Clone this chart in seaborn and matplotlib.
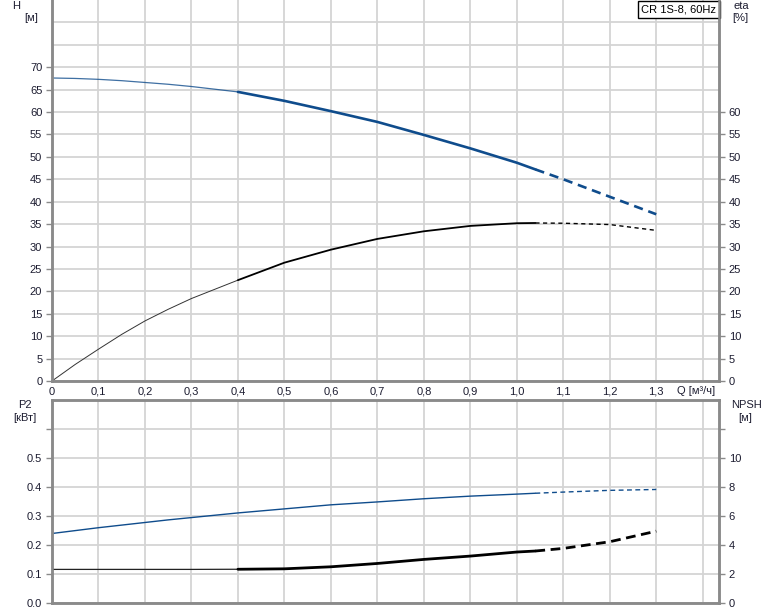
import numpy as np
import pandas as pd
import matplotlib
matplotlib.use("Agg")
import matplotlib.pyplot as plt
import matplotlib.transforms as mtransforms
import seaborn as sns

# values
q = [0.0, 0.05, 0.1, 0.15, 0.2, 0.25, 0.3, 0.4, 0.5, 0.6, 0.7, 0.8, 0.9, 1.0, 1.04, 1.1, 1.2, 1.3]
head = [67.6, 67.5, 67.3, 67.0, 66.6, 66.2, 65.7, 64.5, 62.5, 60.2, 57.8, 54.9, 51.9, 48.7, 47.2, 45.0, 41.1, 37.2]
eta = [0.0, 3.7, 7.1, 10.4, 13.4, 16.0, 18.4, 22.5, 26.4, 29.3, 31.7, 33.4, 34.6, 35.2, 35.25, 35.2, 34.9, 33.6]
p2 = [0.239, 0.249, 0.259, 0.268, 0.277, 0.286, 0.294, 0.310, 0.324, 0.338, 0.348, 0.359, 0.368, 0.375, 0.378, 0.382, 0.388, 0.391]
npsh = [2.30, 2.30, 2.30, 2.30, 2.30, 2.30, 2.30, 2.31, 2.34, 2.48, 2.71, 2.99, 3.22, 3.50, 3.57, 3.75, 4.21, 4.94]

q_labels = ["0", "0,1", "0,2", "0,3", "0,4", "0,5", "0,6", "0,7", "0,8", "0,9", "1,0", "1,1", "1,2", "1,3", ""]
title_box = "CR 1S-8, 60Hz"

df = pd.DataFrame({"Q": q, "H": head, "eta": eta, "P2": p2, "NPSH": npsh})
thin = df[df["Q"] <= 0.4]
mid = df[(df["Q"] >= 0.4) & (df["Q"] <= 1.04)]
solid = df[df["Q"] <= 1.04]
tail = df[df["Q"] >= 1.04]

sns.set_style("white")
plt.rcParams["font.family"] = ["Liberation Sans", "DejaVu Sans"]

blue = "#0f4c8c"
grid_c = "#d4d4d4"
spine_c = "#8a8a8a"
txt_c = "#1c1c30"

fig = plt.figure(figsize=(7.74, 6.11), dpi=100)
ax1 = fig.add_axes([52 / 774, (611 - 381) / 611, 667 / 774, 381 / 611])
ax3 = fig.add_axes([52 / 774, (611 - 602.7) / 611, 667 / 774, 202.7 / 611])


def style_axes(ax):
    ax.set_xlim(0, 1.435)
    ax.set_xticks(np.arange(0, 1.45, 0.1))
    ax.grid(True, which="both", color=grid_c, lw=1.3)
    ax.set_axisbelow(True)
    for s in ax.spines.values():
        s.set_color(spine_c)
        s.set_linewidth(1.8)
    ax.tick_params(axis="x", length=0, labelsize=8, labelcolor=txt_c, pad=4)
    ax.tick_params(axis="y", which="major", direction="out", length=4, width=1,
                   color=spine_c, labelsize=8, labelcolor=txt_c, pad=3)
    ax.tick_params(axis="y", which="minor", length=0)
    ax.set_xlabel("")
    ax.set_ylabel("")


# --- top panel: H and eta
sns.lineplot(data=thin, x="Q", y="H", ax=ax1, color=blue, lw=0.9, alpha=0.8)
sns.lineplot(data=mid, x="Q", y="H", ax=ax1, color=blue, lw=1.9)
sns.lineplot(data=tail, x="Q", y="H", ax=ax1, color=blue, lw=1.9, linestyle=(0, (3.5, 2.2)))
sns.lineplot(data=thin, x="Q", y="eta", ax=ax1, color="#333333", lw=0.7)
sns.lineplot(data=mid, x="Q", y="eta", ax=ax1, color="black", lw=1.3)
sns.lineplot(data=tail, x="Q", y="eta", ax=ax1, color="black", lw=1.0, linestyle=(0, (3, 2.5)))

style_axes(ax1)
ax1.spines["top"].set_visible(False)
ax1.set_ylim(0, 85)
ax1.set_yticks(np.arange(0, 71, 5))
ax1.set_yticks([75, 80], minor=True)
ax1.set_xticklabels(q_labels)

ax2 = ax1.twinx()
ax2.set_ylim(0, 85)
ax2.set_yticks(np.arange(0, 61, 5))
ax2.tick_params(axis="y", direction="out", length=4, width=1, color=spine_c,
                labelsize=8, labelcolor=txt_c, pad=3)
ax2.grid(False)
for s in ax2.spines.values():
    s.set_color(spine_c)
    s.set_linewidth(1.8)
ax2.spines["top"].set_visible(False)

trans = mtransforms.blended_transform_factory(ax1.transData, ax1.transAxes)
ax1.text(1.385, -0.027, "Q [м³/ч]", transform=trans, ha="center", va="center",
         fontsize=8, color=txt_c)
ax1.text(0.996, 0.988, title_box, transform=ax1.transAxes, ha="right", va="top",
         fontsize=8, color="black", zorder=10,
         bbox=dict(boxstyle="square,pad=0.3", fc="white", ec="black", lw=1))

fig.text(16 / 774, 1 - 6 / 611, "H", ha="center", va="center", fontsize=8, color=txt_c)
fig.text(31 / 774, 1 - 18 / 611, "[м]", ha="center", va="center", fontsize=8, color=txt_c)
fig.text(741 / 774, 1 - 6 / 611, "eta", ha="center", va="center", fontsize=8, color=txt_c)
fig.text(740 / 774, 1 - 18 / 611, "[%]", ha="center", va="center", fontsize=8, color=txt_c)

# --- bottom panel: P2 and NPSH
sns.lineplot(data=solid, x="Q", y="P2", ax=ax3, color=blue, lw=1.0)
sns.lineplot(data=tail, x="Q", y="P2", ax=ax3, color=blue, lw=1.0, linestyle=(0, (3.5, 2.5)))

style_axes(ax3)
ax3.set_ylim(0, 0.7)
ax3.set_yticks(np.arange(0, 0.61, 0.1))
ax3.set_yticklabels(["0.0", "0.1", "0.2", "0.3", "0.4", "0.5", ""])
ax3.set_xticklabels([])

ax4 = ax3.twinx()
ax4.set_ylim(0, 14)
sns.lineplot(data=thin, x="Q", y="NPSH", ax=ax4, color="#222222", lw=0.9)
sns.lineplot(data=mid, x="Q", y="NPSH", ax=ax4, color="black", lw=2.0)
sns.lineplot(data=tail, x="Q", y="NPSH", ax=ax4, color="black", lw=2.0, linestyle=(0, (3.5, 2)))
ax4.set_ylim(0, 14)
ax4.set_yticks(np.arange(0, 13, 2))
ax4.set_yticklabels(["0", "2", "4", "6", "8", "10", ""])
ax4.tick_params(axis="y", direction="out", length=4, width=1, color=spine_c,
                labelsize=8, labelcolor=txt_c, pad=3)
ax4.set_ylabel("")
ax4.grid(False)
for s in ax4.spines.values():
    s.set_color(spine_c)
    s.set_linewidth(1.8)

fig.text(25 / 774, 1 - 405 / 611, "P2", ha="center", va="center", fontsize=8, color=txt_c)
fig.text(25 / 774, 1 - 418 / 611, "[кВт]", ha="center", va="center", fontsize=8, color=txt_c)
fig.text(746 / 774, 1 - 405 / 611, "NPSH", ha="center", va="center", fontsize=8, color=txt_c)
fig.text(745 / 774, 1 - 418 / 611, "[м]", ha="center", va="center", fontsize=8, color=txt_c)

fig.savefig("out.png", dpi=100, facecolor="white")
